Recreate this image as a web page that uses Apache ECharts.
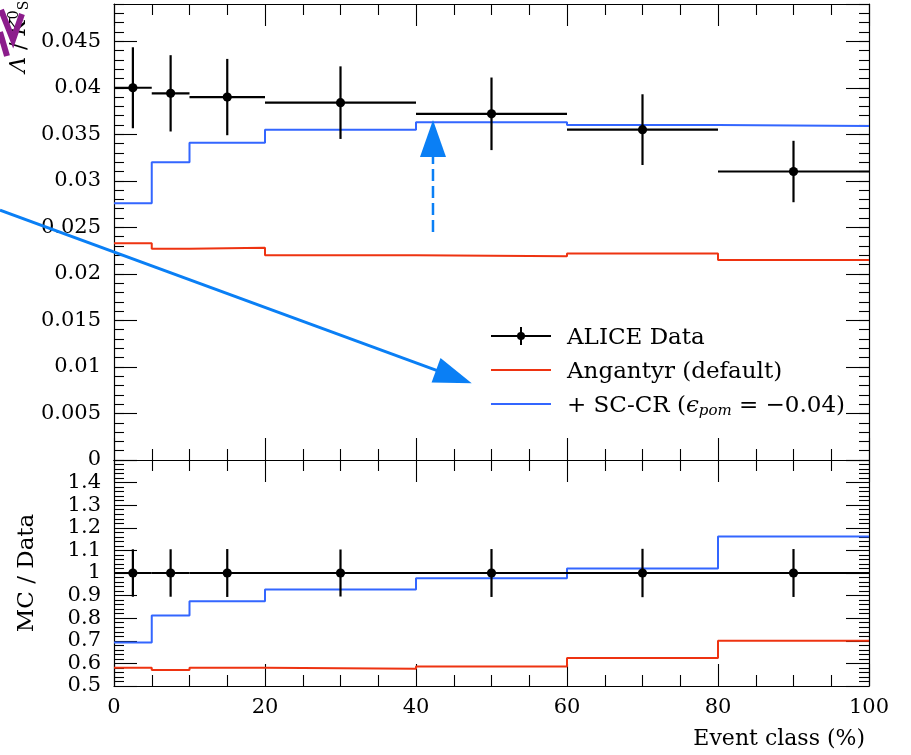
<!DOCTYPE html>
<html><head><meta charset="utf-8">
<script src="https://cdn.jsdelivr.net/npm/echarts@6/dist/echarts.min.js"></script>
<style>html,body{margin:0;padding:0;background:#fff}#c{width:911px;height:755px}</style>
</head><body><div id="c"></div>
<script>
// ---- data ----
const binEdges = [0, 5, 10, 20, 40, 60, 80, 100];
const binCenters = [2.5, 7.5, 15, 30, 50, 70, 90];
const aliceVals = [0.0400, 0.0394, 0.0390, 0.0384, 0.0372, 0.0355, 0.0310];
const aliceErrs = [0.00435, 0.0041, 0.0041, 0.0039, 0.0039, 0.0038, 0.0033];
const angantyrVals = [0.0233, 0.0227, 0.0228, 0.0220, 0.0219, 0.0222, 0.0215];
const sccrVals = [0.0276, 0.0320, 0.0341, 0.0355, 0.0363, 0.0360, 0.0359];
const ratioAlice = [1, 1, 1, 1, 1, 1, 1];
const ratioAliceErrs = [0.105, 0.105, 0.106, 0.104, 0.106, 0.107, 0.106];
const ratioAngantyr = [0.581, 0.571, 0.581, 0.576, 0.586, 0.624, 0.700];
const ratioSccr = [0.692, 0.812, 0.875, 0.927, 0.977, 1.020, 1.162];
const xTicks = [0, 20, 40, 60, 80, 100];
const yTopTicks = [0, 0.005, 0.01, 0.015, 0.02, 0.025, 0.03, 0.035, 0.04, 0.045];
const yRatioTicks = [0.5, 0.6, 0.7, 0.8, 0.9, 1, 1.1, 1.2, 1.3, 1.4];
const legendLabels = ['ALICE Data', 'Angantyr (default)', '+ SC-CR ({i|ϵ}{s|pom} = −0.04)'];
const xTitle = 'Event class (%)';
const ratioTitle = 'MC / Data';
// annotation anchor points in data space of the upper panel
const arrowFrom = [-15.1, 0.02686], arrowTo = [47.38, 0.00824];
const dashFrom = [42.25, 0.0245], dashTo = [42.25, 0.03654];
const scribbleA = [[-14.97, 0.04836], [-13.38, 0.04513], [-12.19, 0.04793]];
const scribbleB = [[-15.10, 0.04599], [-14.17, 0.04341]];
const labelAnchor = [-12.6, 0.0416];

const F = 'DejaVu Serif';
const RED = '#EE3311', BLUE = '#3366FF', ANNO = '#0a7ff5', PURPLE = '#8c1d8c';

function stepData(vals) {
  const d = binEdges.slice(0, -1).map((e, i) => [e, vals[i]]);
  d.push([binEdges[binEdges.length - 1], vals[vals.length - 1]]);
  return d;
}
function errData(vals, errs) {
  return binCenters.map((c, i) => [c, vals[i], binEdges[i], binEdges[i + 1], errs[i]]);
}
function renderErr(params, api) {
  const x = api.value(0), y = api.value(1), lo = api.value(2), hi = api.value(3), e = api.value(4);
  const L = api.coord([lo, y]), R = api.coord([hi, y]);
  const T = api.coord([x, y + e]), B = api.coord([x, y - e]), P = api.coord([x, y]);
  const st = { stroke: '#000', lineWidth: 2.2 };
  return { type: 'group', children: [
    { type: 'line', shape: { x1: L[0], y1: L[1], x2: R[0], y2: R[1] }, style: st },
    { type: 'line', shape: { x1: T[0], y1: T[1], x2: B[0], y2: B[1] }, style: st },
    { type: 'circle', shape: { cx: P[0], cy: P[1], r: 4.6 }, style: { fill: '#000' } }
  ]};
}
const tickStyle = { color: '#000', width: 1.1 };
function xAx(grid, pos, labels, extra) {
  return Object.assign({
    type: 'value', gridIndex: grid, position: pos,
    min: xTicks[0], max: xTicks[xTicks.length - 1], interval: xTicks[1] - xTicks[0],
    axisLine: { show: true, onZero: false, lineStyle: { color: '#000', width: 1.2 } },
    axisTick: { show: true, inside: true, length: 22, lineStyle: tickStyle },
    minorTick: { show: true, splitNumber: 4, length: 11, lineStyle: tickStyle },
    splitLine: { show: false }, minorSplitLine: { show: false },
    axisLabel: { show: labels, margin: 11, color: '#000', fontFamily: F, fontSize: 21 }
  }, extra || {});
}
const topMax = 0.049;
function yTop(pos, major, labels) {
  return {
    type: 'value', gridIndex: 0, position: pos, min: 0, max: topMax,
    interval: major ? yTopTicks[1] - yTopTicks[0] : 0.001,
    axisLine: { show: major, onZero: false, lineStyle: { color: '#000', width: 1.2 } },
    axisTick: { show: true, inside: true, length: major ? 23 : 10, lineStyle: tickStyle },
    splitLine: { show: false },
    axisLabel: { show: labels, showMaxLabel: false, margin: 13, color: '#000', fontFamily: F, fontSize: 21,
      formatter: v => String(Math.round(v * 1000) / 1000) }
  };
}
function yRatio(pos, labels, extra) {
  return Object.assign({
    type: 'value', gridIndex: 1, position: pos,
    min: yRatioTicks[0], max: 1.5, interval: 0.1,
    axisLine: { show: true, onZero: false, lineStyle: { color: '#000', width: 1.2 } },
    axisTick: { show: true, inside: true, length: 23, lineStyle: tickStyle },
    minorTick: { show: true, splitNumber: 5, length: 10, lineStyle: tickStyle },
    splitLine: { show: false }, minorSplitLine: { show: false },
    axisLabel: { show: labels, showMaxLabel: false, margin: 13, color: '#000', fontFamily: F, fontSize: 21,
      formatter: v => String(Math.round(v * 10) / 10) }
  }, extra || {});
}

const chart = echarts.init(document.getElementById('c'), null, { renderer: 'canvas' });
chart.setOption({
  animation: false,
  backgroundColor: '#fff',
  grid: [
    { left: 114, width: 755, top: 4, height: 456, outerBoundsMode: 'none' },
    { left: 114, width: 755, top: 460, height: 226, outerBoundsMode: 'none' }
  ],
  xAxis: [
    xAx(0, 'bottom', false),
    xAx(0, 'top', false),
    xAx(1, 'bottom', true, {
      name: xTitle, nameLocation: 'end', nameGap: -4, nameMoveOverlap: false,
      nameTextStyle: { fontFamily: F, fontSize: 22, color: '#000', align: 'right', verticalAlign: 'top', padding: [42, 0, 0, 0] }
    }),
    xAx(1, 'top', false)
  ],
  yAxis: [
    yTop('left', true, true),
    yTop('left', false, false),
    yTop('right', true, false),
    yTop('right', false, false),
    yRatio('left', true, {
      name: ratioTitle, nameLocation: 'middle', nameGap: 75, nameRotate: 90, nameMoveOverlap: false,
      nameTextStyle: { fontFamily: F, fontSize: 23, color: '#000' }
    }),
    yRatio('right', false)
  ],
  series: [
    { type: 'line', xAxisIndex: 0, yAxisIndex: 0, step: 'end', data: stepData(angantyrVals), showSymbol: false,
      lineStyle: { color: RED, width: 2 }, itemStyle: { color: RED }, silent: true },
    { type: 'line', xAxisIndex: 0, yAxisIndex: 0, step: 'end', data: stepData(sccrVals), showSymbol: false,
      lineStyle: { color: BLUE, width: 2 }, itemStyle: { color: BLUE }, silent: true },
    { type: 'custom', xAxisIndex: 0, yAxisIndex: 0, data: errData(aliceVals, aliceErrs),
      encode: { x: 0, y: 1 }, renderItem: renderErr, silent: true, z: 5 },
    { type: 'line', xAxisIndex: 2, yAxisIndex: 4, step: 'end', data: stepData(ratioAngantyr), showSymbol: false,
      lineStyle: { color: RED, width: 2 }, itemStyle: { color: RED }, silent: true },
    { type: 'line', xAxisIndex: 2, yAxisIndex: 4, step: 'end', data: stepData(ratioSccr), showSymbol: false,
      lineStyle: { color: BLUE, width: 2 }, itemStyle: { color: BLUE }, silent: true },
    { type: 'custom', xAxisIndex: 2, yAxisIndex: 4, data: errData(ratioAlice, ratioAliceErrs),
      encode: { x: 0, y: 1 }, renderItem: renderErr, silent: true, z: 5 }
  ]
});

// ---- annotations & legend (positions from data space of the upper panel) ----
const px = p => chart.convertToPixel({ xAxisIndex: 0, yAxisIndex: 0 }, p);
function arrow(from, to, hl, hw, lineStyle) {
  const a = px(from), b = px(to);
  const dx = b[0] - a[0], dy = b[1] - a[1], len = Math.hypot(dx, dy);
  const ux = dx / len, uy = dy / len, nx = -uy, ny = ux;
  const bx = b[0] - ux * hl, by = b[1] - uy * hl;
  return [
    { type: 'line', shape: { x1: a[0], y1: a[1], x2: bx + ux * 2, y2: by + uy * 2 }, style: lineStyle, z: 100 },
    { type: 'polygon', shape: { points: [b, [bx + nx * hw / 2, by + ny * hw / 2], [bx - nx * hw / 2, by - ny * hw / 2]] },
      style: { fill: ANNO }, z: 100 }
  ];
}
const lab = px(labelAnchor);
const legRows = [336, 370, 404];
const legX0 = 491, legX1 = 551, legTx = 567;
const LF = 23;
const legendEls = [
  { type: 'line', shape: { x1: legX0, y1: legRows[0], x2: legX1, y2: legRows[0] }, style: { stroke: '#000', lineWidth: 2 } },
  { type: 'line', shape: { x1: (legX0 + legX1) / 2, y1: legRows[0] - 9, x2: (legX0 + legX1) / 2, y2: legRows[0] + 9 }, style: { stroke: '#000', lineWidth: 2 } },
  { type: 'circle', shape: { cx: (legX0 + legX1) / 2, cy: legRows[0], r: 4 }, style: { fill: '#000' } },
  { type: 'line', shape: { x1: legX0, y1: legRows[1], x2: legX1, y2: legRows[1] }, style: { stroke: RED, lineWidth: 2 } },
  { type: 'line', shape: { x1: legX0, y1: legRows[2], x2: legX1, y2: legRows[2] }, style: { stroke: BLUE, lineWidth: 2 } }
].concat(legendLabels.map((t, i) => ({
  type: 'text', x: legTx, y: legRows[i] + 2,
  style: { text: t, fontFamily: F, fontSize: LF, fill: '#000', align: 'left', verticalAlign: 'middle',
    rich: { i: { fontFamily: F, fontSize: LF, fontStyle: 'italic', fill: '#000' },
            s: { fontFamily: F, fontSize: 15, fontStyle: 'italic', fill: '#000', verticalAlign: 'bottom', padding: [10, 0, 0, 0] } } }
})));

chart.setOption({
  graphic: [].concat(
    [{ type: 'text', x: lab[0], y: lab[1], rotation: Math.PI / 2,
       style: { text: '{i|Λ} / {i|K}{sup|0}{sub|S}', fontFamily: F, fontSize: 22, fill: '#000', align: 'left', verticalAlign: 'middle',
         rich: { i: { fontFamily: F, fontSize: 22, fontStyle: 'italic', fill: '#000' },
                 sup: { fontFamily: F, fontSize: 14, fill: '#000', verticalAlign: 'top', padding: [0, 0, 10, 0] },
                 sub: { fontFamily: F, fontSize: 14, fill: '#000', verticalAlign: 'bottom', padding: [10, 0, 0, 0] } } } },
     { type: 'polyline', shape: { points: scribbleA.map(px) }, style: { stroke: PURPLE, lineWidth: 6, fill: null }, z: 101 },
     { type: 'polyline', shape: { points: scribbleB.map(px) }, style: { stroke: PURPLE, lineWidth: 6, fill: null }, z: 101 }],
    arrow(arrowFrom, arrowTo, 38, 26, { stroke: ANNO, lineWidth: 3 }),
    arrow(dashFrom, dashTo, 37, 26, { stroke: ANNO, lineWidth: 2.5, lineDash: [12, 5] }),
    legendEls
  )
});
</script></body></html>
